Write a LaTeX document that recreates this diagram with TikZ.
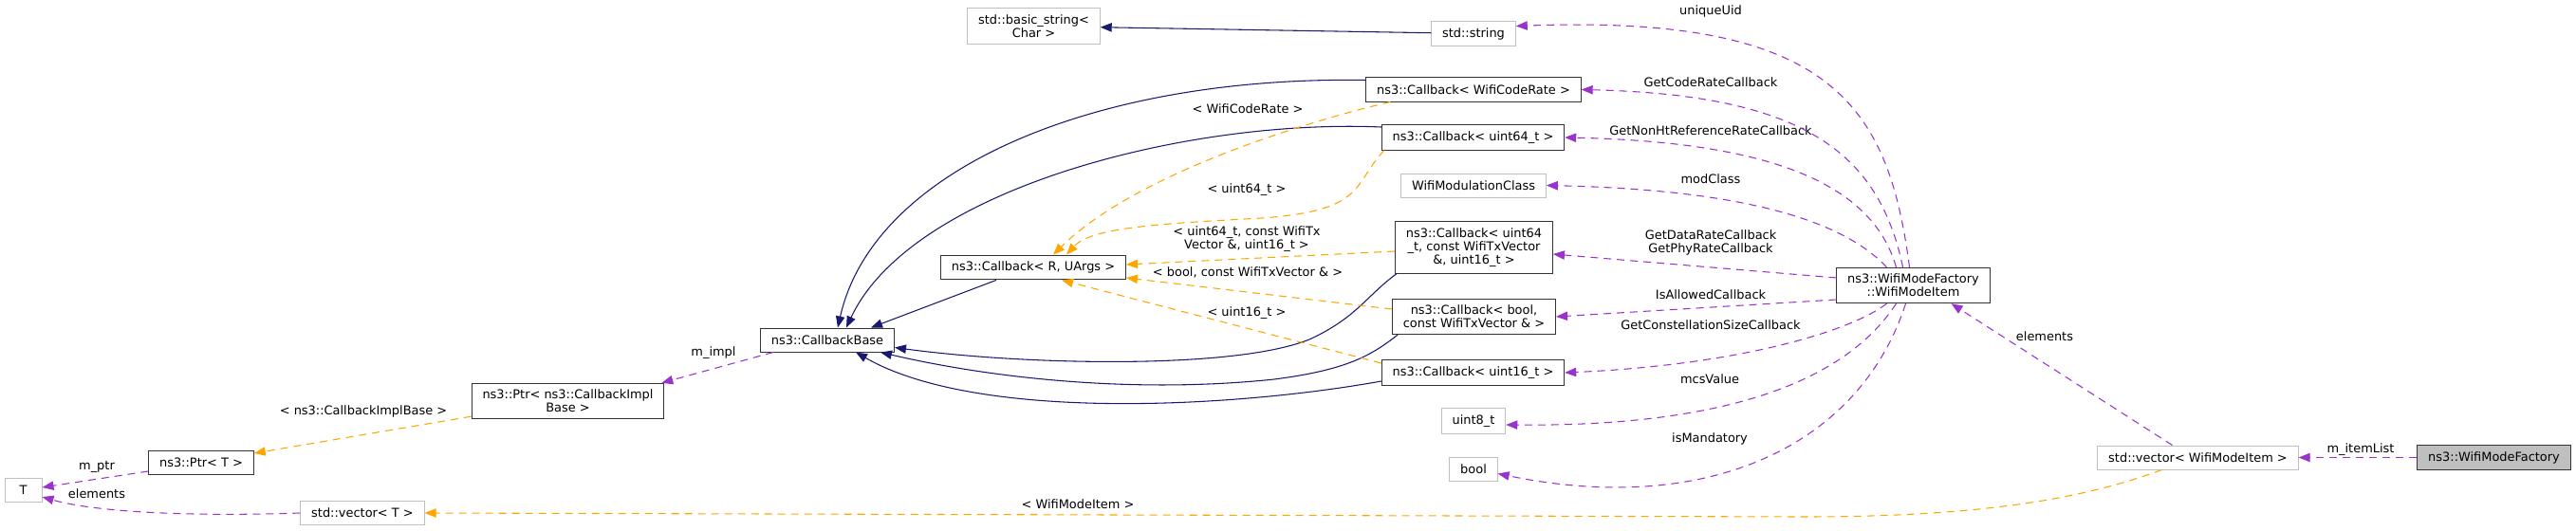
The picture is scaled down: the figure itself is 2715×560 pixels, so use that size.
\documentclass[tikz,border=0pt]{standalone}
\usepackage{fontspec}
\setmainfont{DejaVu Sans}
\usetikzlibrary{arrows.meta,calc}

\definecolor{navy}{HTML}{191970}
\definecolor{dxorange}{HTML}{FFA500}
\definecolor{dxpurple}{HTML}{9A32CD}
\definecolor{grey75}{HTML}{BFBFBF}

\begin{document}
\begin{tikzpicture}[x=0.75pt,y=-0.75pt,font=\fontsize{9.7pt}{10.5pt}\selectfont]

\tikzstyle{cls} = [rectangle, draw=black!80, line width=0.75pt, fill=white, align=center, inner xsep=8.5pt, inner ysep=5pt, minimum height=18.75pt]
\tikzstyle{ext} = [cls, draw=grey75]%, undocumented
\tikzstyle{main} = [cls, fill=grey75]
\tikzstyle{lbl} = [inner sep=1pt, align=center]

\tikzstyle{derive} = [draw=navy, line width=0.8pt, ->, >={Triangle[length=9pt,width=7pt]}]
\tikzstyle{tmpl} = [draw=dxorange, line width=0.8pt, dash pattern=on 6pt off 4.5pt, ->, >={Triangle[length=9pt,width=7pt]}]
\tikzstyle{member} = [draw=dxpurple, line width=0.8pt, dash pattern=on 6pt off 4.5pt, ->, >={Triangle[length=9pt,width=7pt]}]

\useasboundingbox (0,0) rectangle (2715,560);

% classes
\node (basicstr) [ext] at (1089.5,27.5) {std::basic\_string<\\Char >};
\node (stdstr) [ext] at (1553,35.5) {std::string};
\node (cbCode) [cls] at (1553,94.5) {ns3::Callback< WifiCodeRate >};
\node (cbU64) [cls] at (1552.5,145) {ns3::Callback< uint64\_t >};
\node (modcls) [ext] at (1553,195.5) {WifiModulationClass};
\node (cbData) [cls] at (1553.5,261) {ns3::Callback< uint64\\\_t, const WifiTxVector\\\&, uint16\_t >};
\node (cbBool) [cls] at (1553.5,334) {ns3::Callback< bool,\\const WifiTxVector \& >};
\node (cbU16) [cls] at (1552.5,393) {ns3::Callback< uint16\_t >};
\node (uint8) [ext] at (1553,444) {uint8\_t};
\node (boolt) [ext] at (1553,494.5) {bool};
\node (item) [cls] at (2016.5,301) {ns3::WifiModeFactory\\::WifiModeItem};
\node (vecItem) [ext] at (2316.5,482.5) {std::vector< WifiModeItem >};
\node (factory) [main] at (2628.5,482.5) {ns3::WifiModeFactory};
\node (cbR) [cls] at (1089,282) {ns3::Callback< R, UArgs >};
\node (cbBase) [cls] at (872,358.5) {ns3::CallbackBase};
\node (ptrImpl) [cls] at (598.5,423) {ns3::Ptr< ns3::CallbackImpl\\Base >};
\node (ptrT) [cls] at (212,488) {ns3::Ptr< T >};
\node (tparam) [ext, minimum width=29.25pt] at (24.5,517) {T};
\node (vecT) [ext] at (382,541) {std::vector< T >};

% edge labels
\node (lUid) [lbl] at (1803,12) {uniqueUid};
\node (lCode) [lbl] at (1803,87) {GetCodeRateCallback};
\node (lNonHt) [lbl] at (1803,138) {GetNonHtReferenceRateCallback};
\node (lMod) [lbl] at (1803,189) {modClass};
\node (lData) [lbl] at (1803,256) {GetDataRateCallback\\GetPhyRateCallback};
\node (lAllowed) [lbl] at (1803,311) {IsAllowedCallback};
\node (lConst) [lbl] at (1803,343) {GetConstellationSizeCallback};
\node (lMcs) [lbl] at (1802,400) {mcsValue};
\node (lMand) [lbl] at (1802,463) {isMandatory};
\node (lElem) [lbl] at (2155,355) {elements};
\node (lList) [lbl] at (2488,474) {m\_itemList};
\node (tCode) [lbl] at (1315,115) {< WifiCodeRate >};
\node (tU64) [lbl] at (1314,200) {< uint64\_t >};
\node (tData) [lbl] at (1314,252) {< uint64\_t, const WifiTx\\Vector \&, uint16\_t >};
\node (tBool) [lbl] at (1315,287) {< bool, const WifiTxVector \& >};
\node (tU16) [lbl] at (1314,330) {< uint16\_t >};
\node (lImpl) [lbl] at (752,372) {m\_impl};
\node (tImpl) [lbl] at (383,434) {< ns3::CallbackImplBase >};
\node (lPtr) [lbl] at (102,492) {m\_ptr};
\node (lElemT) [lbl] at (102,521) {elements};
\node (tItem) [lbl] at (1136,532) {< WifiModeItem >};

% inheritance
\draw [derive] (stdstr) -- (basicstr);
\draw [derive] ($(cbCode.west)+(0,-10)$) .. controls (1150,80) and (920,180) .. ($(cbBase.north)+(11,0)$);
\draw [derive] ($(cbU64.west)+(0,-11)$) .. controls (1250,125) and (960,200) .. ($(cbBase.north)+(20,0)$);
\draw [derive] ($(cbR.south)+(-39,0)$) -- ($(cbBase.north)+(46,0)$);
\draw [derive] ($(cbData.south west)+(2,0)$) .. controls (1440,312) and (1430,335) .. (1380,358) .. controls (1300,390) and (1080,385) .. ($(cbBase.east)+(0,8)$);
\draw [derive] ($(cbBool.south west)+(6,0)$) .. controls (1445,375) and (1420,390) .. (1343,400) .. controls (1200,415) and (1050,400) .. ($(cbBase.south east)+(-15,0)$);
\draw [derive] ($(cbU16.west)+(0,9)$) .. controls (1300,430) and (1030,445) .. ($(cbBase.south)+(30,0)$);

% template instances
\draw [tmpl] ($(cbCode.south west)+(26,0)$) .. controls (1390,125) and (1200,180) .. ($(cbR.north)+(21,0)$);
\draw [tmpl] ($(cbU64.south west)+(3,0)$) .. controls (1425,195) and (1440,222) .. (1330,230) .. controls (1220,236) and (1150,240) .. ($(cbR.north)+(35,0)$);
\draw [tmpl] ($(cbData.west)+(0,4)$) -- ($(cbR.east)+(0,-3)$);
\draw [tmpl] ($(cbBool.west)+(0,-8)$) -- ($(cbR.east)+(0,11)$);
\draw [tmpl] ($(cbU16.west)+(0,-10)$) -- ($(cbR.south)+(30,0)$);
\draw [tmpl] ($(ptrImpl.south west)+(0,-3)$) -- ($(ptrT.east)+(0,-10)$);
\draw [tmpl] ($(vecItem.south)+(-38,0)$) .. controls (2190,528) and (2080,545) .. (1900,545) -- (vecT.east);

% members
\draw [member] ($(item.north)+(-4,0)$) .. controls (1990,110) and (1930,15) .. ($(stdstr.east)+(0,-8)$);
\draw [member] ($(item.north)+(-11,0)$) .. controls (1980,160) and (1900,100) .. (cbCode.east);
\draw [member] ($(item.north)+(-18,0)$) .. controls (1975,200) and (1880,150) .. (cbU64.east);
\draw [member] ($(item.north)+(-28,0)$) .. controls (1940,230) and (1830,200) .. (modcls.east);
\draw [member] ($(item.west)+(0,-8)$) -- ($(cbData.east)+(0,7)$);
\draw [member] ($(item.west)+(0,15)$) -- (cbBool.east);
\draw [member] ($(item.south)+(-28,0)$) .. controls (1950,350) and (1830,385) .. (cbU16.east);
\draw [member] ($(item.south)+(-18,0)$) .. controls (1940,410) and (1800,450) .. ($(uint8.east)+(0,4)$);
\draw [member] ($(item.south)+(-8,0)$) .. controls (1960,470) and (1800,545) .. ($(boolt.east)+(0,5)$);
\draw [member] ($(vecItem.north)+(-27,0)$) -- ($(item.south)+(40,0)$);
\draw [member] (factory) -- (vecItem);
\draw [member] ($(cbBase.south west)+(14,0)$) -- ($(ptrImpl.north east)+(-3,0)$);
\draw [member] ($(ptrT.west)+(0,9)$) -- ($(tparam.east)+(0,-3)$);
\draw [member] (vecT.west) .. controls (200,545) and (100,540) .. ($(tparam.east)+(0,7)$);

\end{tikzpicture}
\end{document}
